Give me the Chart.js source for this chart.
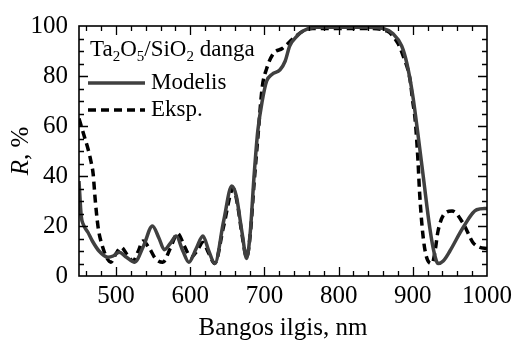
<!DOCTYPE html>
<html>
<head>
    <title>Ta2O5/SiO2 danga</title>
    <script src="https://cdn.jsdelivr.net/npm/chart.js"></script>
    <style>
        body { margin: 0; background: #fff; }
        #wrap { width: 517px; height: 345px; }
    </style>
</head>
<body>
    <div id="wrap">
        <canvas id="spectrumChart" width="517" height="345"></canvas>
    </div>

    <script>
// wavelength, nm and reflectance, %
var modelWl = [450, 453, 456, 462, 468, 477, 489, 496, 504, 514, 525, 537, 549, 558, 565, 573, 581, 590, 598, 608, 617, 625, 633, 645, 656, 662, 670, 676, 681, 686, 691, 697, 703, 710, 721, 728, 734, 744, 752, 771, 800, 840, 860, 873, 885, 892, 900, 907, 914, 923, 929, 934, 941, 950, 968, 986, 1000];
var modelR = [38, 24, 20.5, 17.5, 14, 10, 7.5, 8, 9.5, 7.5, 5.5, 12, 20, 15, 10.5, 13, 16, 10, 5.5, 11, 16, 10, 5, 22, 36, 32, 17, 7, 18, 40, 58, 70, 78, 80.6, 82.5, 86, 92, 96, 98, 99.5, 99.5, 99.5, 99, 97, 92, 85, 72, 56.5, 40, 19, 9, 5, 6, 10, 19.5, 26.5, 27];

var eksWl = [450, 454, 458, 462, 466, 469, 472, 476, 482, 488, 493, 500, 507, 515, 523, 530, 536, 545, 553, 563, 573, 583, 592, 601, 609, 617, 625, 633, 645, 658, 664, 670, 676, 681, 686, 691, 697, 703, 712, 724, 739, 752, 765, 800, 840, 865, 880, 887, 896, 900, 903, 907, 909, 914, 920, 926, 930, 934, 943, 953, 968, 981, 990, 1000];
var eksR = [63, 59, 55, 51, 46, 41, 30, 19, 11.5, 7, 5.5, 9, 11.5, 8.5, 6, 10, 14, 11, 7, 5.5, 11, 17, 12, 7.5, 10, 13.4, 9, 5, 20, 35, 28, 16, 7.5, 17, 37, 55, 75.5, 83, 89, 91, 95, 98, 99, 99, 99, 98, 93, 88, 79, 69.6, 63, 46, 34, 15.4, 6.3, 5, 10, 18, 25, 26, 21, 13.4, 11.5, 11];

var xTicks = [500, 600, 700, 800, 900, 1000];
var yTicks = [0, 20, 40, 60, 80, 100];
var xMinorStep = 20;
var yMinorStep = 5;

var seriesNames = ['Modelis', 'Eksp.'];
var xTitle = 'Bangos ilgis, nm';

var serif = '"Liberation Serif", "DejaVu Serif", serif';

function toPoints(xs, ys) {
    return xs.map(function(x, i) { return { x: x, y: ys[i] }; });
}

// box, inward ticks on four sides, y title and legend
var framePlugin = {
    id: 'frame',
    afterDraw: function(chart) {
        var ctx = chart.ctx;
        var a = chart.chartArea;
        var xs = chart.scales.x;
        var ys = chart.scales.y;
        ctx.save();
        ctx.strokeStyle = '#000';
        ctx.lineWidth = 1.6;
        ctx.strokeRect(a.left, a.top, a.right - a.left, a.bottom - a.top);

        ctx.lineWidth = 1.3;
        ctx.beginPath();
        for (var v = xs.min + 10; v < xs.max; v += xMinorStep) {
            var px = Math.round(xs.getPixelForValue(v)) + 0.5;
            var len = (v % 100 === 0) ? 9 : 5;
            ctx.moveTo(px, a.bottom); ctx.lineTo(px, a.bottom - len);
            ctx.moveTo(px, a.top); ctx.lineTo(px, a.top + len);
        }
        for (var w = ys.min + yMinorStep; w < ys.max; w += yMinorStep) {
            var py = Math.round(ys.getPixelForValue(w)) + 0.5;
            var l2 = (w % 20 === 0) ? 9 : 5;
            ctx.moveTo(a.left, py); ctx.lineTo(a.left + l2, py);
            ctx.moveTo(a.right, py); ctx.lineTo(a.right - l2, py);
        }
        ctx.stroke();

        // y title with italic R
        ctx.fillStyle = '#000';
        ctx.translate(21, (a.top + a.bottom) / 2);
        ctx.rotate(-Math.PI / 2);
        ctx.textBaseline = 'middle';
        ctx.font = 'italic 25px ' + serif;
        var w1 = ctx.measureText('R').width;
        ctx.font = '25px ' + serif;
        var w2 = ctx.measureText(', %').width;
        var sx = -(w1 + w2) / 2;
        ctx.font = 'italic 25px ' + serif;
        ctx.fillText('R', sx, 0);
        ctx.font = '25px ' + serif;
        ctx.fillText(', %', sx + w1, 0);
        ctx.restore();

        // legend
        ctx.save();
        ctx.fillStyle = '#000';
        ctx.textBaseline = 'alphabetic';
        var parts = [['Ta', 0], ['2', 1], ['O', 0], ['5', 1], ['/SiO', 0], ['2', 1], [' danga', 0]];
        var tx = a.left + 11;
        var base = a.top + 30;
        parts.forEach(function(p) {
            ctx.font = p[1] ? '15px ' + serif : '23px ' + serif;
            ctx.fillText(p[0], tx, base + (p[1] ? 5 : 0));
            tx += ctx.measureText(p[0]).width;
        });

        var ds = chart.data.datasets;
        var rows = [a.top + 57, a.top + 84];
        ds.forEach(function(d, i) {
            ctx.strokeStyle = d.borderColor;
            ctx.lineWidth = d.borderWidth;
            ctx.setLineDash(d.borderDash || []);
            ctx.beginPath();
            ctx.moveTo(a.left + 9, rows[i]);
            ctx.lineTo(a.left + 66, rows[i]);
            ctx.stroke();
            ctx.setLineDash([]);
            ctx.font = '23px ' + serif;
            ctx.textBaseline = 'middle';
            ctx.fillText(d.label, a.left + 72, rows[i]);
        });
        ctx.restore();
    }
};

var chart = new Chart(document.getElementById('spectrumChart'), {
    type: 'line',
    data: {
        datasets: [
            {
                label: seriesNames[0],
                data: toPoints(modelWl, modelR),
                borderColor: '#404040',
                borderWidth: 3.5,
                pointRadius: 0,
                cubicInterpolationMode: 'monotone',
                fill: false
            },
            {
                label: seriesNames[1],
                data: toPoints(eksWl, eksR),
                borderColor: '#000000',
                borderWidth: 3.5,
                borderDash: [8, 5],
                pointRadius: 0,
                cubicInterpolationMode: 'monotone',
                fill: false
            }
        ]
    },
    options: {
        responsive: false,
        animation: false,
        layout: { padding: { top: 23, right: 30, left: 0, bottom: 0 } },
        plugins: { legend: { display: false }, tooltip: { enabled: false } },
        scales: {
            x: {
                type: 'linear',
                min: 450,
                max: 1000,
                grid: { display: false, drawTicks: false },
                border: { display: false },
                afterBuildTicks: function(s) { s.ticks = xTicks.map(function(v) { return { value: v }; }); },
                afterFit: function(s) { s.height = 69; },
                ticks: {
                    color: '#000', padding: 5, maxRotation: 0,
                    font: { family: serif, size: 25 },
                    callback: function(v) { return String(v); }
                },
                title: { display: true, text: xTitle, color: '#000', padding: { top: 0, bottom: 2 }, font: { family: serif, size: 25 } }
            },
            y: {
                min: 0,
                max: 100,
                grid: { display: false, drawTicks: false },
                border: { display: false },
                afterBuildTicks: function(s) { s.ticks = yTicks.map(function(v) { return { value: v }; }); },
                afterFit: function(s) { s.width = 79; },
                ticks: {
                    color: '#000', padding: 11,
                    font: { family: serif, size: 25 },
                    callback: function(v) { return String(v); }
                }
            }
        }
    },
    plugins: [framePlugin]
});
    </script>
</body>
</html>
